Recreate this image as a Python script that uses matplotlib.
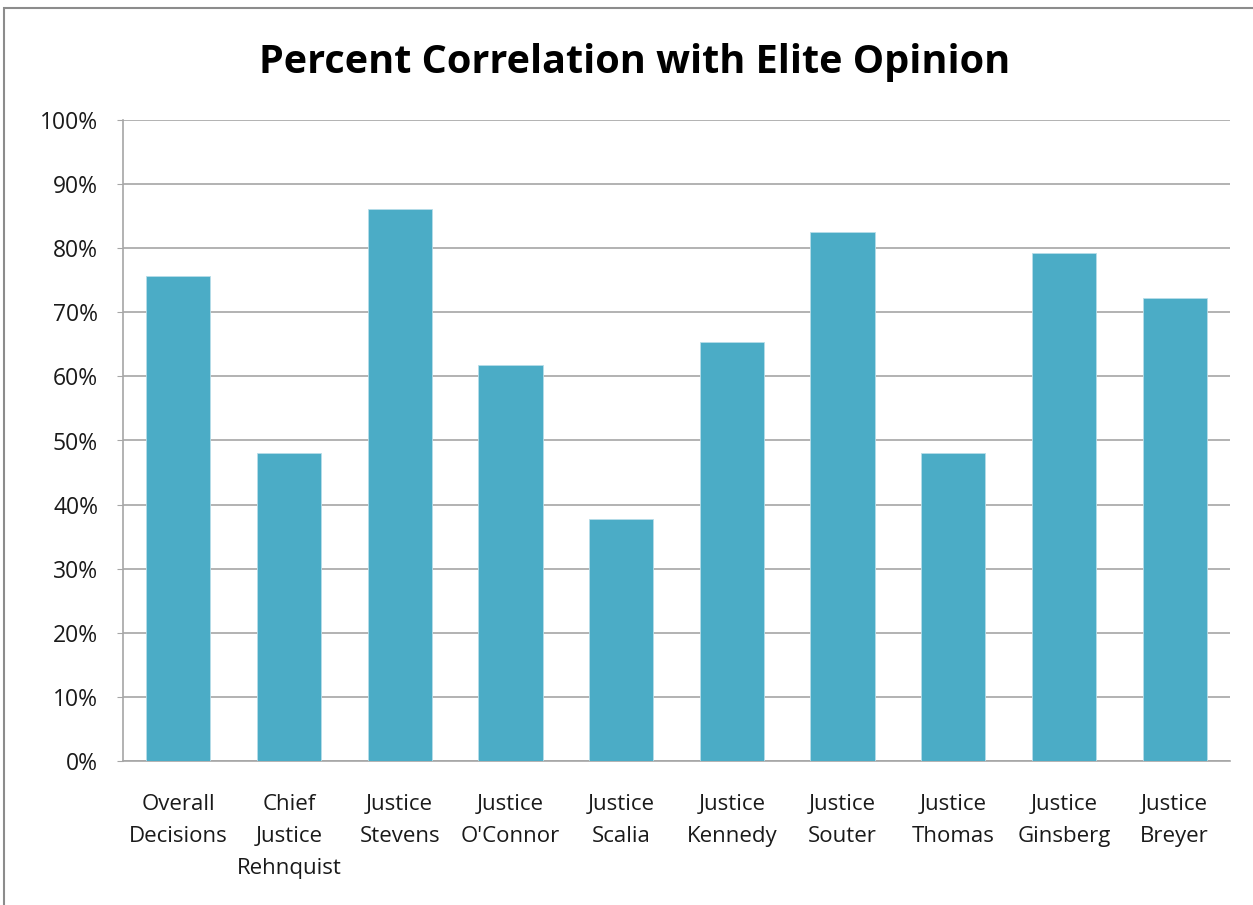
import matplotlib
matplotlib.use('Agg')
import matplotlib.pyplot as plt
from matplotlib.patches import Rectangle

categories = ['Overall\nDecisions', 'Chief\nJustice\nRehnquist', 'Justice\nStevens',
              "Justice\nO'Connor", 'Justice\nScalia', 'Justice\nKennedy', 'Justice\nSouter',
              'Justice\nThomas', 'Justice\nGinsberg', 'Justice\nBreyer']
values = [75.7, 48.0, 86.1, 61.8, 37.8, 65.4, 82.5, 48.0, 79.3, 72.2]
yticks = [0, 10, 20, 30, 40, 50, 60, 70, 80, 90, 100]
ytick_labels = [f'{v}%' for v in yticks]

plt.rcParams['font.family'] = ['Open Sans', 'DejaVu Sans']

fig = plt.figure(figsize=(12.53, 9.05), dpi=100)
fig.patch.set_facecolor('white')
# outer chart border (top and left visible)
fig.patches.append(Rectangle((4 / 1253, -0.1), 1.2, 1 - 8 / 905 + 0.1, transform=fig.transFigure,
                             fill=False, edgecolor='#8c8c8c', linewidth=1.5))

ax = fig.add_axes([123 / 1253, 1 - 761 / 905, (1230 - 123) / 1253, (761 - 120) / 905])
x = list(range(len(categories)))
ax.bar(x, values, width=0.58, color='#4BACC6', edgecolor='#B7DDE8', linewidth=0.6, zorder=3)

ax.set_xlim(-0.5, len(categories) - 0.5)
ax.set_ylim(0, 100)
ax.set_yticks(yticks)
ax.set_yticklabels(ytick_labels)
ax.set_xticks(x)
ax.set_xticklabels(categories, linespacing=1.68)
ax.grid(axis='y', color='#a6a6a6', linewidth=1.2, zorder=0)
for s in ['top', 'right']:
    ax.spines[s].set_visible(False)
for s in ['left', 'bottom']:
    ax.spines[s].set_color('#a6a6a6')
    ax.spines[s].set_linewidth(1.2)
ax.tick_params(axis='y', length=4, color='#a6a6a6', labelsize=16.5, labelcolor='#1a1a1a', pad=14)
ax.tick_params(axis='x', length=0, labelsize=16, labelcolor='#1a1a1a', pad=24)

fig.text(635 / 1253, 1 - 62 / 905, 'Percent Correlation with Elite Opinion', ha='center', va='center',
         fontsize=28.5, fontweight='bold', color='black')

fig.savefig('out.png', dpi=100, facecolor='white')
